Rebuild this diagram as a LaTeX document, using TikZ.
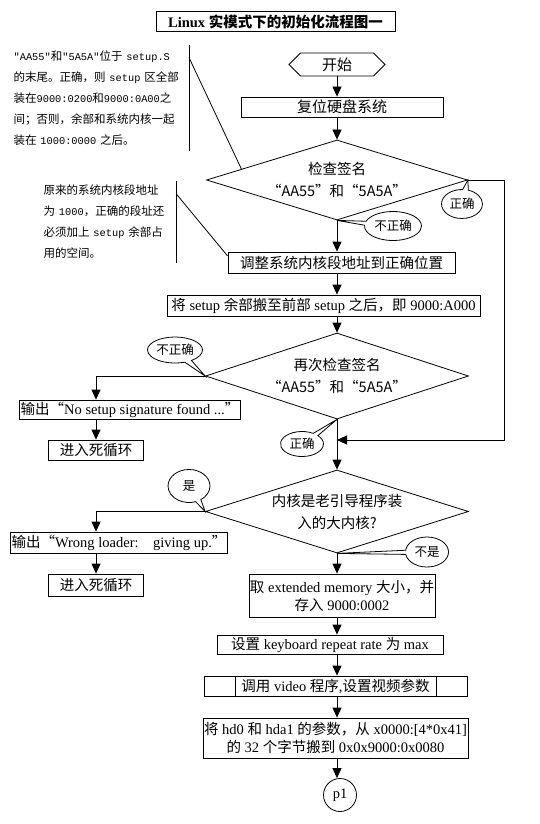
\documentclass[tikz,border=0pt]{standalone}
\usepackage{fontspec}
\setmainfont{Liberation Serif}
\newfontfamily\cjk{Noto Sans CJK SC}
\newfontfamily\notemono[Scale=0.9]{Liberation Mono}
\usetikzlibrary{shapes.geometric,shapes.symbols,shapes.callouts,arrows.meta,calc}

\begin{document}
\begin{tikzpicture}[x=1pt,y=-1pt,line width=0.8pt,
    box/.style={draw,rectangle,inner sep=1pt,font=\fontsize{14.5}{18}\selectfont},
    cond/.style={draw,diamond,inner sep=0pt,align=center,font=\cjk\fontsize{14.5}{22}\selectfont},
    tag/.style={draw,ellipse callout,inner sep=0pt,callout pointer arc=16,font=\cjk\fontsize{12.5}{14}\selectfont},
    note/.style={inner sep=3pt,align=left,font=\cjk\fontsize{11.5}{21}\selectfont},
    arr/.style={-{Triangle[length=10pt,width=9pt]}}]
    \useasboundingbox (0,0) rectangle (539,824);

    \node[draw,minimum width=239pt,minimum height=20pt,inner sep=0pt,line width=1pt,font=\fontsize{14.5}{18}\selectfont\bfseries] (title) at (275.5,22) {Linux {\cjk 实模式下的初始化流程图一}};

    \node[signal,signal to=west and east,draw,minimum width=96pt,minimum height=23pt,inner sep=0pt,font=\cjk\fontsize{15}{18}\selectfont] (start) at (337,64.5) {开始};
    \node[box,minimum width=202pt,minimum height=20pt,font=\cjk\fontsize{15}{18}\selectfont] (reset) at (342,107) {复位硬盘系统};
    \node[cond,minimum width=261pt,minimum height=80pt,aspect=3.2] (chk1) at (337,180) {检查签名\\“AA55”和“5A5A”};
    \node[box,minimum width=227pt,minimum height=21pt] (adj) at (341.5,262.5) {\cjk 调整系统内核段地址到正确位置};
    \node[box,minimum width=313pt,minimum height=21pt] (move) at (323.5,305.5) {{\cjk 将} setup {\cjk 余部搬至前部} setup {\cjk 之后，即} 9000:A000};
    \node[cond,minimum width=263pt,minimum height=86pt,aspect=3.06] (chk2) at (337,376) {再次检查签名\\“AA55”和“5A5A”};
    \node[box,minimum width=218pt,minimum height=19pt] (nosig) at (130,409.5) {{\cjk 输出“}No setup signature found ...{\cjk ”}};
    \node[box,minimum width=95pt,minimum height=20pt] (dead1) at (96,450) {\cjk 进入死循环};
    \node[cond,minimum width=263pt,minimum height=83pt,aspect=3.17] (chk3) at (337,511.5) {内核是老引导程序装\\入的大内核?};
    \node[box,minimum width=214pt,minimum height=21pt] (wrong) at (119,542.5) {{\cjk 输出“}Wrong loader:\ \ \ \ giving up.{\cjk ”}};
    \node[box,minimum width=95pt,minimum height=22pt] (dead2) at (96,585) {\cjk 进入死循环};
    \node[box,minimum width=178pt,minimum height=43pt,align=center] (ext) at (342,595.5) {{\cjk 取} extended memory {\cjk 大小，并}\\{\cjk 存入} 9000:0002};
    \node[box,minimum width=226pt,minimum height=19pt] (kbd) at (330,644.5) {{\cjk 设置} keyboard repeat rate {\cjk 为} max};
    \node[box,minimum width=263pt,minimum height=20pt] (video) at (335.5,686) {{\cjk 调用} video {\cjk 程序},{\cjk 设置视频参数}};
    \node[box,minimum width=263pt,minimum height=40pt,align=center] (hd) at (335.5,738) {{\cjk 将} hd0 {\cjk 和} hda1 {\cjk 的参数，从} x0000:[4*0x41]\\{\cjk 的} 32 {\cjk 个字节搬到} 0x0x9000:0x0080};
    \node[draw,circle,minimum size=33pt,inner sep=0pt,font=\fontsize{14.5}{18}\selectfont] (p1) at (340,795) {p1};
    \draw ([xshift=32pt]video.north west) -- ([xshift=32pt]video.south west);
    \draw ([xshift=-31pt]video.north east) -- ([xshift=-31pt]video.south east);

    % callouts
    \node[tag,minimum width=41pt,minimum height=29pt,callout absolute pointer={(chk1.east)}] (ok1) at (462,204) {正确};
    \node[tag,minimum width=57pt,minimum height=29pt,callout absolute pointer={(chk1.south)}] (bad1) at (393,226) {不正确};
    \node[tag,minimum width=55pt,minimum height=26pt,callout absolute pointer={(chk2.west)}] (bad2) at (175,350) {不正确};
    \node[tag,minimum width=43pt,minimum height=25pt,callout absolute pointer={(chk2.south)}] (ok2) at (302,444) {正确};
    \node[tag,minimum width=42pt,minimum height=33pt,callout absolute pointer={(chk3.west)}] (yes) at (189,486) {是};
    \node[tag,minimum width=43pt,minimum height=30pt,callout absolute pointer={(chk3.south)}] (no) at (427,552) {不是};

    % notes
    \node[note,text width=172pt,minimum height=106pt,anchor=east] (note1) at (189,98) {{\notemono"AA55"}和{\notemono"5A5A"}位于 {\notemono setup.S}\\的末尾。正确，则 {\notemono setup} 区全部\\装在{\notemono 9000:0200}和{\notemono 9000:0A00}之\\间；否则，余部和系统内核一起\\装在 {\notemono 1000:0000} 之后。};
    \node[note,text width=129pt,minimum height=82pt,anchor=east] (note2) at (176,222) {原来的系统内核段地址\\为 {\notemono 1000}，正确的段址还\\必须加上 {\notemono setup} 余部占\\用的空间。};
    \draw (note1.north east) -- (note1.south east);
    \draw ([yshift=-13pt]note1.north east) -- ($(chk1.west)!0.27!(chk1.north)$);
    \draw (note2.north east) -- (note2.south east);
    \draw ([yshift=-13pt]note2.north east) -- ($(adj.north west)!0.2!(adj.south west)$);

    % flow
    \coordinate (back) at (504,440);
    \coordinate (merge) at (337,440);
    \draw[arr] (start.south) -- (start.south |- reset.north);
    \draw[arr] (start.south |- reset.south) -- (chk1.north);
    \draw[arr] (chk1.south) -- (chk1.south |- adj.north);
    \draw[arr] (chk1.south |- adj.south) -- (chk1.south |- move.north);
    \draw[arr] (chk1.south |- move.south) -- (chk2.north);
    \draw[arr] (chk1.east) -| (back) -- (merge);
    \draw[arr] (chk2.south) -- (chk3.north);
    \draw[arr] (chk2.west) -| (dead1 |- nosig.north);
    \draw[arr] (dead1 |- nosig.south) -- (dead1.north);
    \draw[arr] (chk3.west) -| (dead2 |- wrong.north);
    \draw[arr] (dead2 |- wrong.south) -- (dead2.north);
    \draw[arr] (chk3.south) -- (chk3.south |- ext.north);
    \draw[arr] (chk3.south |- ext.south) -- (chk3.south |- kbd.north);
    \draw[arr] (chk3.south |- kbd.south) -- (chk3.south |- video.north);
    \draw[arr] (chk3.south |- video.south) -- (chk3.south |- hd.north);
    \draw[arr] (chk3.south |- hd.south) -- (chk3.south |- p1.north);
\end{tikzpicture}
\end{document}
